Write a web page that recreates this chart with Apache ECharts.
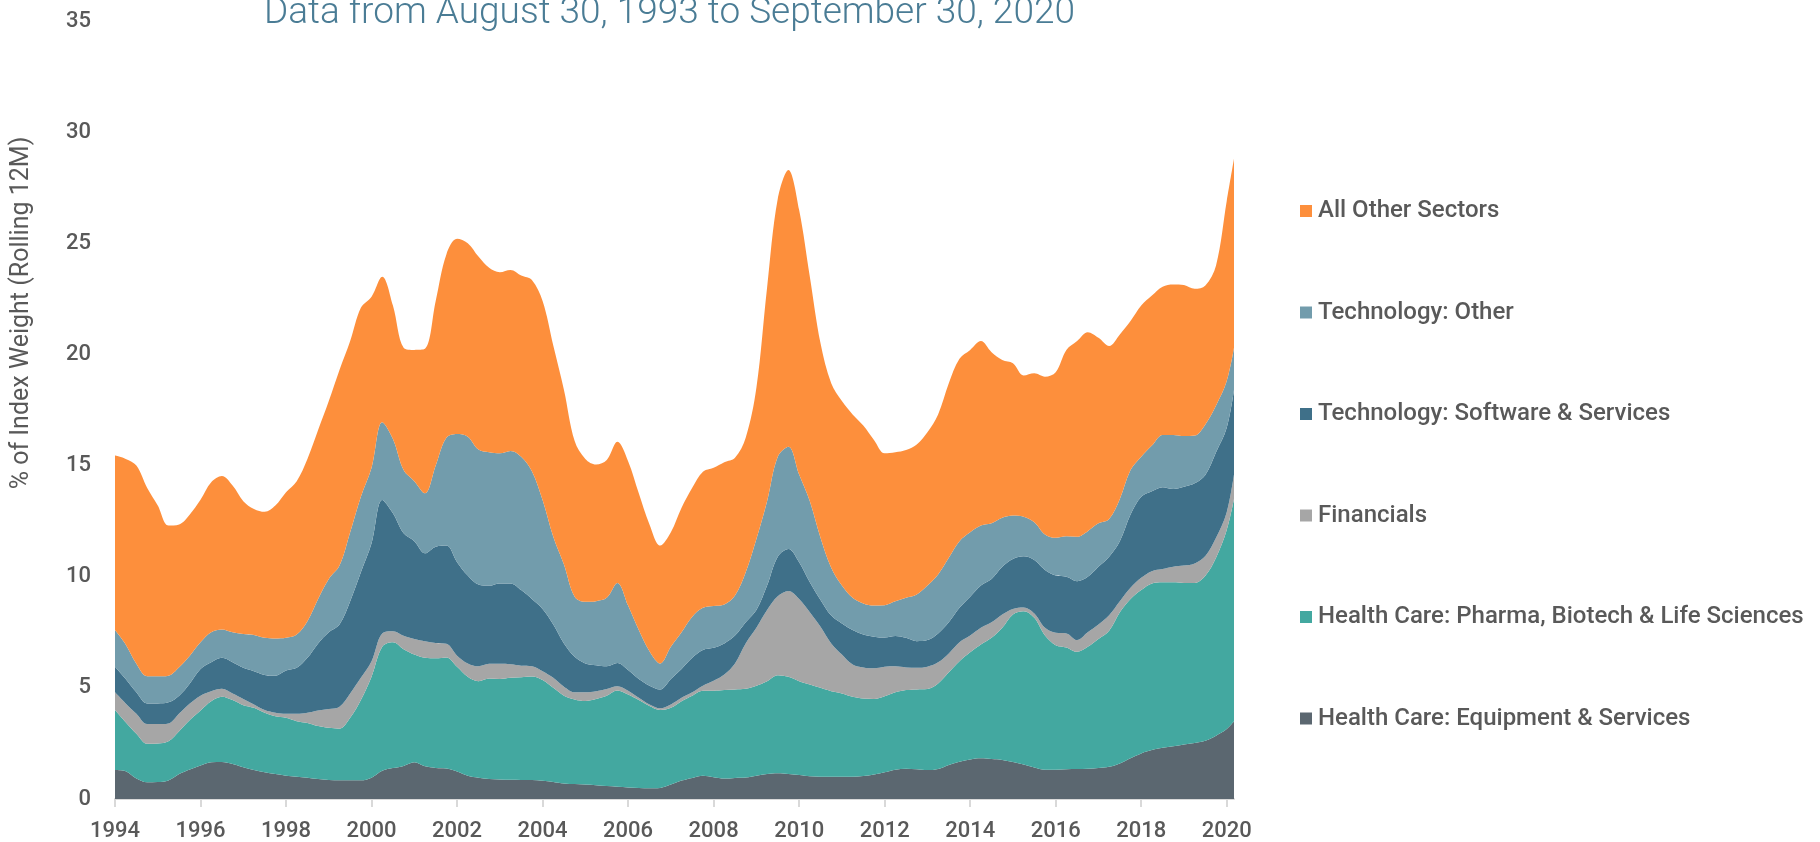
<!DOCTYPE html>
<html>
<head>
<meta charset="utf-8">
<script src="https://cdn.jsdelivr.net/npm/echarts@6/dist/echarts.min.js"></script>
<style>
  html, body { margin: 0; padding: 0; background: #ffffff; }
  #chart { width: 1820px; height: 842px; }
</style>
</head>
<body>
<div id="chart"></div>
<script>
// x positions (years, quarterly samples)
const years = [
  1994.00,1994.25,1994.50,1994.75,1995.00,1995.25,1995.50,1995.75,1996.00,1996.25,
  1996.50,1996.75,1997.00,1997.25,1997.50,1997.75,1998.00,1998.25,1998.50,1998.75,
  1999.00,1999.25,1999.50,1999.75,2000.00,2000.25,2000.50,2000.75,2001.00,2001.25,
  2001.50,2001.75,2002.00,2002.25,2002.50,2002.75,2003.00,2003.25,2003.50,2003.75,
  2004.00,2004.25,2004.50,2004.75,2005.00,2005.25,2005.50,2005.75,2006.00,2006.25,
  2006.50,2006.75,2007.00,2007.25,2007.50,2007.75,2008.00,2008.25,2008.50,2008.75,
  2009.00,2009.25,2009.50,2009.75,2010.00,2010.25,2010.50,2010.75,2011.00,2011.25,
  2011.50,2011.75,2012.00,2012.25,2012.50,2012.75,2013.00,2013.25,2013.50,2013.75,
  2014.00,2014.25,2014.50,2014.75,2015.00,2015.25,2015.50,2015.75,2016.00,2016.25,
  2016.50,2016.75,2017.00,2017.25,2017.50,2017.75,2018.00,2018.25,2018.50,2018.75,
  2019.00,2019.25,2019.50,2019.75,2020.00,2020.17
];

const tickYears = [1994,1996,1998,2000,2002,2004,2006,2008,2010,2012,2014,2016,2018,2020];
const yTicks = [0,5,10,15,20,25,30,35];

const seriesNames = [
  'Health Care: Equipment & Services',
  'Health Care: Pharma, Biotech & Life Sciences',
  'Financials',
  'Technology: Software & Services',
  'Technology: Other',
  'All Other Sectors'
];

const hcEquipment = [
  1.30,1.25,0.92,0.75,0.76,0.83,1.12,1.33,1.51,1.65,
  1.67,1.58,1.43,1.30,1.20,1.12,1.05,1.00,0.96,0.90,
  0.86,0.84,0.84,0.84,0.96,1.27,1.39,1.49,1.65,1.47,
  1.40,1.37,1.24,1.05,0.96,0.90,0.88,0.87,0.86,0.85,
  0.82,0.77,0.70,0.67,0.65,0.62,0.58,0.55,0.52,0.50,
  0.48,0.50,0.65,0.83,0.95,1.05,0.98,0.92,0.95,0.97,
  1.05,1.12,1.16,1.13,1.08,1.02,1.00,1.00,1.00,1.00,
  1.03,1.10,1.20,1.32,1.36,1.34,1.30,1.35,1.53,1.68,
  1.78,1.83,1.80,1.76,1.66,1.55,1.42,1.32,1.32,1.34,
  1.35,1.36,1.40,1.45,1.60,1.83,2.05,2.20,2.30,2.37,
  2.45,2.52,2.62,2.85,3.15,3.50
];

const hcPharma = [
  2.70,2.20,2.01,1.73,1.74,1.77,1.93,2.22,2.47,2.75,
  2.93,2.87,2.79,2.80,2.68,2.60,2.60,2.50,2.46,2.38,
  2.34,2.32,2.81,3.61,4.54,5.58,5.66,5.25,4.85,4.88,
  4.93,5.00,4.71,4.45,4.34,4.52,4.52,4.58,4.62,4.66,
  4.53,4.23,3.95,3.81,3.76,3.88,4.07,4.33,4.18,3.95,
  3.70,3.50,3.45,3.57,3.70,3.82,3.89,3.98,3.98,3.99,
  4.05,4.18,4.41,4.37,4.22,4.13,4.00,3.85,3.75,3.60,
  3.49,3.40,3.42,3.48,3.54,3.59,3.65,3.85,4.17,4.52,
  4.82,5.12,5.45,5.94,6.64,6.90,6.73,6.03,5.60,5.48,
  5.27,5.49,5.80,6.12,6.80,7.17,7.35,7.50,7.45,7.38,
  7.27,7.20,7.42,8.00,8.95,10.00
];

const financials = [
  0.80,0.85,0.90,0.89,0.87,0.80,0.80,0.75,0.67,0.45,
  0.36,0.30,0.28,0.15,0.12,0.16,0.18,0.33,0.46,0.70,
  0.85,0.99,1.10,1.00,0.70,0.60,0.50,0.60,0.70,0.75,
  0.69,0.61,0.50,0.60,0.67,0.66,0.68,0.61,0.52,0.46,
  0.40,0.45,0.40,0.32,0.39,0.35,0.30,0.19,0.17,0.10,
  0.07,0.08,0.15,0.15,0.15,0.23,0.45,0.70,1.17,2.04,
  2.60,3.20,3.55,3.86,3.70,3.25,2.75,2.15,1.75,1.45,
  1.40,1.38,1.33,1.17,1.02,0.97,1.00,0.95,0.85,0.85,
  0.75,0.75,0.70,0.60,0.25,0.17,0.20,0.35,0.56,0.63,
  0.53,0.65,0.65,0.70,0.50,0.50,0.55,0.55,0.60,0.70,
  0.78,0.88,0.89,0.90,0.80,1.10
];

const techSoftware = [
  1.15,1.10,0.97,0.93,0.93,0.95,0.80,0.90,1.20,1.30,
  1.39,1.40,1.40,1.50,1.58,1.67,1.95,2.07,2.47,3.02,
  3.45,3.70,4.15,4.75,5.30,6.00,5.30,4.61,4.40,3.95,
  4.33,4.42,4.20,3.95,3.68,3.52,3.62,3.64,3.40,3.03,
  2.80,2.40,1.95,1.60,1.30,1.17,1.02,1.05,0.93,0.85,
  0.85,0.85,1.15,1.30,1.55,1.60,1.48,1.40,1.25,0.95,
  0.80,1.10,1.78,1.89,1.65,1.35,1.20,1.25,1.40,1.55,
  1.48,1.42,1.31,1.36,1.33,1.20,1.20,1.30,1.40,1.55,
  1.75,1.90,1.95,2.15,2.25,2.30,2.40,2.60,2.57,2.55,
  2.65,2.50,2.60,2.63,2.70,3.30,3.65,3.60,3.68,3.50,
  3.55,3.60,3.65,3.85,3.80,3.80
];

const techOther = [
  1.65,1.55,1.28,1.22,1.22,1.20,1.28,1.25,1.20,1.35,
  1.28,1.35,1.52,1.63,1.67,1.67,1.47,1.50,1.65,2.00,
  2.40,2.65,3.10,3.40,3.40,3.50,3.35,2.85,2.70,2.70,
  3.65,4.85,5.77,6.25,6.07,6.00,5.85,5.96,6.00,5.75,
  4.90,3.95,3.55,2.70,2.77,2.88,3.08,3.60,2.90,2.20,
  1.55,1.17,1.45,1.65,1.85,1.90,1.88,1.75,1.80,2.25,
  3.20,3.80,4.50,4.60,3.95,3.65,2.80,2.15,1.70,1.45,
  1.40,1.40,1.46,1.57,1.80,2.10,2.45,2.65,2.90,3.00,
  2.90,2.70,2.50,2.20,1.95,1.78,1.70,1.60,1.70,1.82,
  2.00,2.05,1.95,1.70,1.90,2.00,1.80,2.05,2.35,2.43,
  2.28,2.15,2.27,2.10,2.10,1.90
];

const allOther = [
  7.85,8.35,8.92,8.48,7.68,6.75,6.42,6.35,6.41,6.75,
  6.90,6.60,5.98,5.67,5.67,5.98,6.55,6.90,7.30,7.60,
  8.00,8.80,8.60,8.50,7.70,6.55,6.00,5.50,5.90,6.50,
  7.40,8.25,8.78,8.70,8.68,8.30,8.15,8.14,8.15,8.60,
  8.95,8.60,7.85,7.00,6.43,6.15,6.20,6.35,6.50,6.15,
  5.70,5.30,5.15,5.60,5.80,6.12,6.22,6.40,6.20,6.05,
  6.80,9.60,11.60,12.45,11.90,10.10,8.75,8.30,8.30,8.25,
  8.00,7.45,6.83,6.70,6.65,6.75,6.90,7.20,7.85,8.20,
  8.20,8.30,7.70,7.10,6.85,6.35,6.70,7.10,7.45,8.38,
  8.80,8.95,8.35,7.78,7.40,6.70,6.80,6.75,6.67,6.77,
  6.79,6.60,6.25,6.30,8.10,8.50
];

const seriesValues = [hcEquipment, hcPharma, financials, techSoftware, techOther, allOther];
const seriesColors = ['#5b6770', '#43a8a0', '#a6a6a6', '#3f7089', '#729cac', '#fd8f3c'];

const chart = echarts.init(document.getElementById('chart'), null, { renderer: 'canvas' });

// Each item is [value, year]; encode maps the year to x and the value to y,
// so that the library stacks the value dimension.
const series = seriesNames.map(function (name, i) {
  return {
    name: name,
    type: 'line',
    stack: 'total',
    smooth: 0.35,
    symbol: 'none',
    encode: { x: 1, y: 0 },
    lineStyle: { width: 0 },
    areaStyle: { color: seriesColors[i], opacity: 1 },
    itemStyle: { color: seriesColors[i] },
    data: years.map(function (x, k) { return [seriesValues[i][k], x]; })
  };
});

const option = {
  animation: false,
  backgroundColor: '#ffffff',
  title: {
    text: 'Data from August 30, 1993 to September 30, 2020',
    left: 259,
    top: -10,
    textStyle: {
      fontFamily: 'Roboto',
      fontWeight: 300,
      fontSize: 37,
      color: '#4a7c95'
    }
  },
  legend: {
    orient: 'vertical',
    left: 1300,
    top: 198,
    padding: 0,
    itemWidth: 12,
    itemHeight: 12,
    itemGap: 75.5,
    icon: 'rect',
    data: seriesNames.slice().reverse(),
    textStyle: {
      fontFamily: 'Roboto',
      fontWeight: 500,
      fontSize: 24,
      lineHeight: 26,
      color: '#595959',
      padding: [0, 0, 0, 1]
    }
  },
  graphic: [{
    type: 'text',
    x: 22,
    y: 313,
    rotation: Math.PI / 2,
    style: {
      text: '% of Index Weight (Rolling 12M)',
      fill: '#595959',
      font: '400 25px Roboto',
      textAlign: 'center',
      textVerticalAlign: 'middle'
    }
  }],
  grid: { left: 115, right: 586, top: 21, bottom: 42, containLabel: false },
  xAxis: {
    type: 'value',
    min: 1994,
    max: 2020.17,
    axisLine: { show: true, lineStyle: { color: '#d9d9d9', width: 2 } },
    axisTick: { show: true, length: 8, lineStyle: { color: '#d9d9d9', width: 2 }, customValues: tickYears },
    axisLabel: {
      customValues: tickYears,
      margin: 21,
      fontFamily: 'Roboto',
      fontWeight: 500,
      fontSize: 22,
      color: '#595959',
      formatter: function (v) { return String(Math.round(v)); }
    },
    splitLine: { show: false }
  },
  yAxis: {
    type: 'value',
    min: 0,
    max: 35,
    interval: 5,
    axisLine: { show: false },
    axisTick: { show: false },
    splitLine: { show: false },
    axisLabel: {
      margin: 24,
      fontFamily: 'Roboto',
      fontWeight: 500,
      fontSize: 22,
      color: '#595959',
      customValues: yTicks
    }
  },
  series: series
};

chart.setOption(option);
</script>
</body>
</html>
